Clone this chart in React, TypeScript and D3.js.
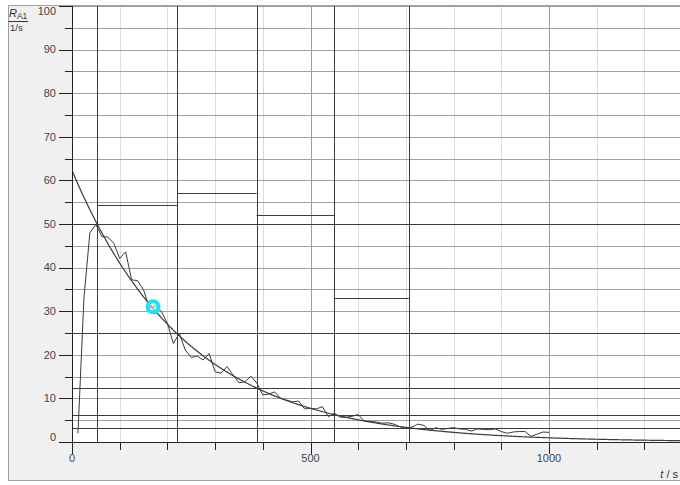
import * as React from 'react';
import * as d3 from 'd3';

// measured count rate R_A1 (1/s) vs time t (s)
const times = [
  12.5, 25, 37.5, 50, 62.5, 75, 87.5, 100, 112.5, 125, 137.5, 150, 162.5, 175, 187.5, 200,
  212.5, 225, 237.5, 250, 262.5, 275, 287.5, 300, 312.5, 325, 337.5, 350, 362.5, 375, 387.5, 400,
  412.5, 425, 437.5, 450, 462.5, 475, 487.5, 500, 512.5, 525, 537.5, 550, 562.5, 575, 587.5, 600,
  612.5, 625, 637.5, 650, 662.5, 675, 687.5, 700, 712.5, 725, 737.5, 750, 762.5, 775, 787.5, 800,
  812.5, 825, 837.5, 850, 862.5, 875, 887.5, 900, 912.5, 925, 937.5, 950, 962.5, 975, 987.5, 1000
];
const rates = [
  2.0, 33, 48, 49.9, 47.1, 47.0, 45.6, 42.1, 43.6, 37.2, 37.0, 34.9, 30.7, 31.2, 29.9, 27.2,
  22.6, 24.9, 21.1, 19.4, 19.7, 18.8, 20.3, 16.1, 15.8, 17.3, 15.4, 13.6, 13.8, 15.1, 13.5, 10.8,
  11.0, 11.5, 10.0, 9.6, 9.2, 9.4, 7.6, 7.7, 7.6, 8.1, 5.8, 6.6, 5.7, 5.7, 5.9, 6.3,
  4.8, 4.7, 4.6, 4.3, 4.4, 4.1, 3.5, 3.2, 3.4, 4.1, 3.8, 2.6, 3.3, 2.9, 3.1, 3.3,
  3.0, 2.9, 2.5, 3.0, 2.9, 2.8, 3.0, 2.4, 2.0, 2.3, 2.4, 2.4, 1.3, 1.8, 2.3, 2.2
];

// exponential fit parameters
const fitR0 = 62.3;
const fitHalfLife = 166;

// half-life marker lines
const markerTimes = [53, 220, 387, 549, 706];
const markerLevels = [50, 25, 12.5, 6.25, 3.125];
// horizontal segments between markers
const segmentLevels = [54.4, 57.1, 52.1, 33.0];

const cursorPoint = { t: 170, r: 31 };

const xTickLabels = [0, 500, 1000];
const yTickLabels = [0, 10, 20, 30, 40, 50, 60, 70, 80, 90, 100];

const W = 680;
const H = 485;
const plot = { left: 72, top: 6, bottom: 442, right: 680 };
const font = '"Liberation Sans", Arial, sans-serif';

export default function App() {
  const x = d3.scaleLinear().domain([0, 1000]).range([plot.left, 549]);
  const y = d3.scaleLinear().domain([0, 100]).range([plot.bottom, plot.top]);
  const xMax = x.invert(W + 10);

  const px = (v: number) => Math.round(v) + 0.5;

  const dataLine = d3.line<number>()
    .x((d, i) => x(times[i]))
    .y(d => y(d))(rates);

  const fitT = d3.range(0, xMax, 2);
  const fitLine = d3.line<number>()
    .x(t => x(t))
    .y(t => y(fitR0 * Math.pow(2, -t / fitHalfLife)))(fitT);

  const minorX = d3.range(100, xMax, 100);
  const hGrid = d3.range(5, 101, 5);
  const yMinor = d3.range(5, 100, 10);

  return (
    <svg width={W} height={H} style={{ position: 'absolute', left: 0, top: 0 }} fontFamily={font}>
      <defs>
        <clipPath id="plotClip">
          <rect x={plot.left} y={plot.top} width={plot.right - plot.left} height={plot.bottom - plot.top} />
        </clipPath>
      </defs>
      <rect x={0} y={0} width={W} height={H} fill="#ffffff" />
      <rect x={8.5} y={5.5} width={W} height={475} fill="#f0f0f0" stroke="#a0a0a0" />
      <rect x={plot.left} y={plot.top} width={plot.right - plot.left} height={plot.bottom - plot.top} fill="#ffffff" />

      <g clipPath="url(#plotClip)">
        {minorX.map(t => (
          <line key={'vx' + t} x1={px(x(t))} x2={px(x(t))} y1={plot.top} y2={plot.bottom}
            stroke={t % 500 === 0 ? '#9a9a9a' : '#dcdcdc'} />
        ))}
        {hGrid.map(v => (
          <line key={'hg' + v} x1={plot.left} x2={plot.right} y1={px(y(v))} y2={px(y(v))} stroke="#a0a0a0" />
        ))}
        {markerLevels.map(v => (
          <line key={'ml' + v} x1={plot.left} x2={plot.right} y1={px(y(v))} y2={px(y(v))} stroke="#3c3c3c" />
        ))}
        {markerTimes.map(t => (
          <line key={'mt' + t} x1={px(x(t))} x2={px(x(t))} y1={plot.top} y2={plot.bottom} stroke="#3c3c3c" />
        ))}
        {segmentLevels.map((v, i) => (
          <line key={'sg' + i} x1={x(markerTimes[i])} x2={x(markerTimes[i + 1])} y1={px(y(v))} y2={px(y(v))}
            stroke="#3c3c3c" />
        ))}
        <path d={fitLine || ''} fill="none" stroke="#3a3a3a" strokeWidth={1.2} />
        <path d={dataLine || ''} fill="none" stroke="#3a3a3a" strokeWidth={1} />
        <circle cx={x(cursorPoint.t)} cy={y(cursorPoint.r)} r={5.5} fill="#d8fbfd" fillOpacity={0.5}
          stroke="#1ee3ef" strokeWidth={4} />
      </g>

      {/* axes */}
      <line x1={px(plot.left)} x2={px(plot.left)} y1={plot.top} y2={plot.bottom + 1} stroke="#222" />
      <line x1={plot.left} x2={plot.right} y1={px(plot.bottom)} y2={px(plot.bottom)} stroke="#222" />

      {yTickLabels.map(v => (
        <g key={'yt' + v}>
          <line x1={59} x2={plot.left} y1={px(y(v))} y2={px(y(v))} stroke="#222" />
          <text x={56} y={y(v) + (v === 100 ? 5 : v === 0 ? -5 : 0)} dy="0.35em" textAnchor="end"
            fontSize={11} fill="#444">{v}</text>
        </g>
      ))}
      {yMinor.map(v => (
        <line key={'ym' + v} x1={65} x2={plot.left} y1={px(y(v))} y2={px(y(v))} stroke="#222" />
      ))}

      {minorX.concat([0]).map(t => (
        <line key={'xt' + t} x1={px(x(t))} x2={px(x(t))} y1={plot.bottom} y2={plot.bottom + (t % 500 === 0 ? 12 : 8)}
          stroke="#222" />
      ))}
      {xTickLabels.map(t => (
        <text key={'xl' + t} x={x(t)} y={462} textAnchor="middle" fontSize={11} fill="#444">{t}</text>
      ))}

      {/* axis titles */}
      <text x={9} y={17} fontSize={11} fill="#333">
        <tspan fontStyle="italic">R</tspan>
        <tspan fontSize={8.5} dy={2}>A1</tspan>
      </text>
      <line x1={8.5} x2={28} y1={21.5} y2={21.5} stroke="#333" />
      <text x={10} y={31} fontSize={9.5} fill="#333">1/s</text>

      <text x={678} y={478} fontSize={11} fill="#333" textAnchor="end">
        <tspan fontStyle="italic">t</tspan> / s
      </text>
    </svg>
  );
}
